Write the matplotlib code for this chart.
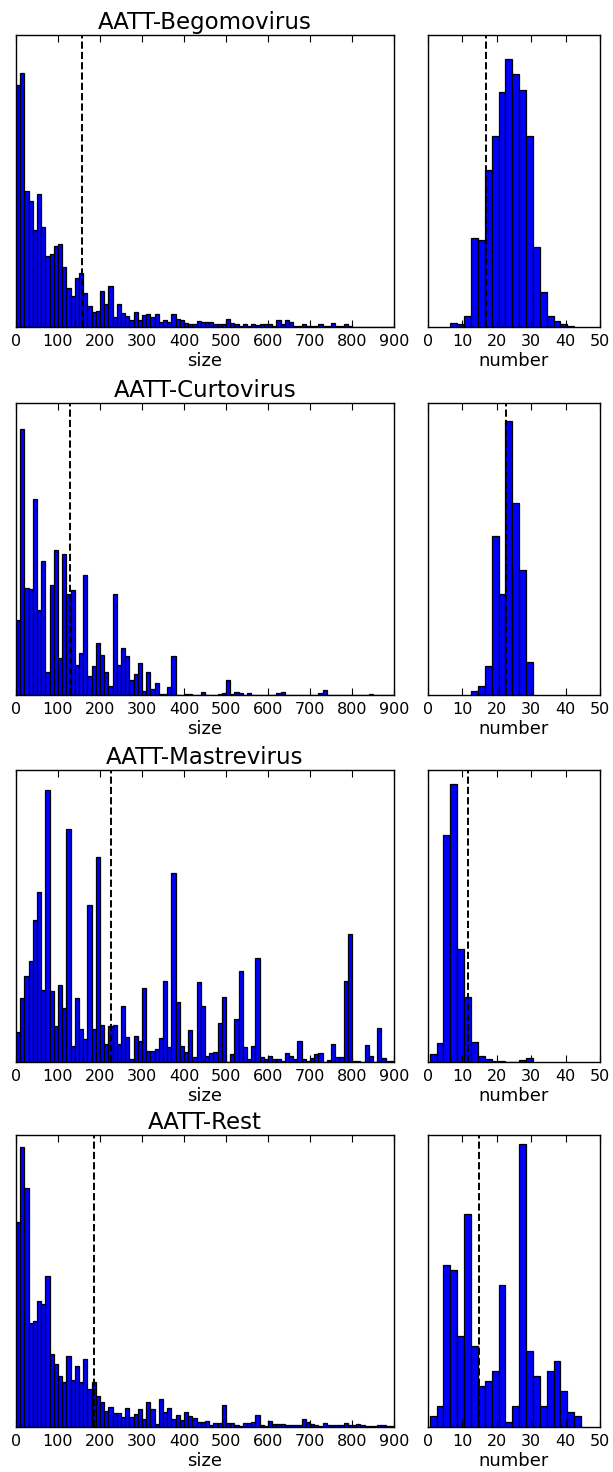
import matplotlib
matplotlib.use("Agg")
import matplotlib.pyplot as plt
import numpy as np

plt.rcParams['font.family'] = ['DejaVu Sans']

titles = ["AATT-Begomovirus", "AATT-Curtovirus", "AATT-Mastrevirus", "AATT-Rest"]

# size histograms, bins of 10 from 0 to 900 (heights)
size_bins = np.arange(0, 901, 10)
size_bego = [727, 762, 409, 379, 292, 399, 300, 214, 219, 242,
             249, 179, 116, 92, 147, 162, 102, 62, 45, 49,
             109, 69, 122, 29, 69, 42, 32, 20, 44, 20,
             36, 40, 30, 39, 16, 20, 16, 40, 24, 20,
             12, 8, 8, 17, 14, 14, 14, 8, 8, 10,
             25, 12, 8, 4, 10, 4, 8, 6, 8, 8,
             8, 4, 21, 8, 22, 14, 2, 4, 8, 2,
             2, 2, 8, 2, 2, 12, 4, 2, 8, 2,
             1, 0, 0, 0, 0, 0, 0, 0, 0, 0]
size_curto = [224, 799, 320, 318, 587, 256, 403, 70, 329, 435,
              111, 423, 304, 316, 90, 125, 360, 56, 86, 157,
              121, 69, 26, 303, 91, 140, 116, 44, 62, 97,
              11, 69, 18, 37, 4, 4, 25, 117, 1, 0,
              2, 2, 0, 0, 10, 1, 0, 0, 2, 6,
              45, 2, 10, 6, 1, 7, 0, 0, 0, 0,
              0, 0, 6, 8, 0, 0, 0, 0, 0, 0,
              0, 0, 5, 15, 0, 0, 0, 0, 0, 0,
              0, 0, 0, 0, 2, 0, 0, 0, 1, 0]
size_mastre = [89, 190, 256, 303, 425, 509, 216, 813, 211, 109,
               229, 161, 697, 49, 190, 100, 69, 469, 99, 613,
               112, 55, 109, 110, 55, 169, 75, 10, 78, 63,
               220, 33, 33, 38, 73, 241, 45, 565, 180, 49,
               29, 95, 15, 239, 167, 19, 28, 29, 116, 194,
               0, 23, 128, 271, 46, 10, 47, 311, 14, 8,
               18, 10, 8, 4, 28, 18, 8, 62, 8, 4,
               11, 25, 28, 0, 6, 54, 16, 16, 241, 384,
               4, 4, 0, 51, 19, 0, 102, 13, 4, 4]
size_rest = [617, 843, 719, 313, 318, 379, 369, 453, 218, 188,
             153, 134, 214, 141, 184, 134, 204, 114, 134, 93,
             75, 48, 59, 41, 41, 29, 56, 31, 39, 53,
             25, 75, 53, 9, 85, 44, 57, 25, 36, 22,
             46, 32, 28, 16, 15, 19, 7, 13, 13, 65,
             13, 13, 7, 3, 13, 13, 15, 35, 7, 3,
             18, 9, 9, 9, 7, 7, 5, 5, 25, 15,
             9, 7, 3, 11, 5, 5, 5, 5, 11, 5,
             5, 9, 7, 3, 3, 3, 5, 5, 3, 3]

# number histograms, bins of 2
num_start = [6.5, 12.5, 0.5, 0.5]
num_bego = [12, 9, 34, 268, 262, 470, 572, 704, 805, 760, 712, 574, 239, 106, 32, 19, 10, 4]
num_curto = [13, 27, 86, 476, 303, 823, 577, 375, 100]
num_mastre = [25, 57, 680, 832, 338, 195, 61, 17, 8, 2, 2, 0, 0, 7, 12]
num_rest = [32, 62, 486, 471, 274, 639, 243, 122, 137, 167, 426, 15, 62, 850,
            228, 152, 62, 167, 197, 107, 45, 32]

size_mean = [158, 128, 227, 185]
num_mean = [16.9, 22.75, 11.7, 14.8]
ytop = [877, 876, 873, 878]

sizes = [size_bego, size_curto, size_mastre, size_rest]
nums = [num_bego, num_curto, num_mastre, num_rest]

fig = plt.figure(figsize=(6.13, 14.72), dpi=100)
bottoms = [0.7779, 0.5279, 0.2785, 0.0306]
h = 0.1984

for i in range(4):
    axl = fig.add_axes([0.0261, bottoms[i], 0.6166, h])
    axr = fig.add_axes([0.6982, bottoms[i], 0.2806, h])

    axl.bar(size_bins[:-1], sizes[i], width=10, align='edge',
            color='#0000ff', edgecolor='black', linewidth=0.9)
    axl.axvline(size_mean[i], color='black', linestyle='--', linewidth=1.4)
    axl.set_xlim(0, 900)
    axl.set_ylim(0, ytop[i])
    axl.set_xticks(np.arange(0, 901, 100))
    axl.set_title(titles[i], fontsize=16.5, pad=4)
    axl.set_xlabel("size", fontsize=13, labelpad=2)

    edges = num_start[i] + 2 * np.arange(len(nums[i]))
    axr.bar(edges, nums[i], width=2, align='edge',
            color='#0000ff', edgecolor='black', linewidth=0.9)
    axr.axvline(num_mean[i], color='black', linestyle='--', linewidth=1.4)
    axr.set_xlim(0, 50)
    axr.set_ylim(0, ytop[i])
    axr.set_xticks(np.arange(0, 51, 10))
    axr.set_xlabel("number", fontsize=13, labelpad=2)

    for ax in (axl, axr):
        ax.set_yticks([])
        ax.tick_params(axis='x', direction='in', top=True, length=5, width=0.8,
                       labelsize=11.5, pad=5)
        for s in ax.spines.values():
            s.set_linewidth(1.0)

fig.savefig("out.png", dpi=100, facecolor='white')
